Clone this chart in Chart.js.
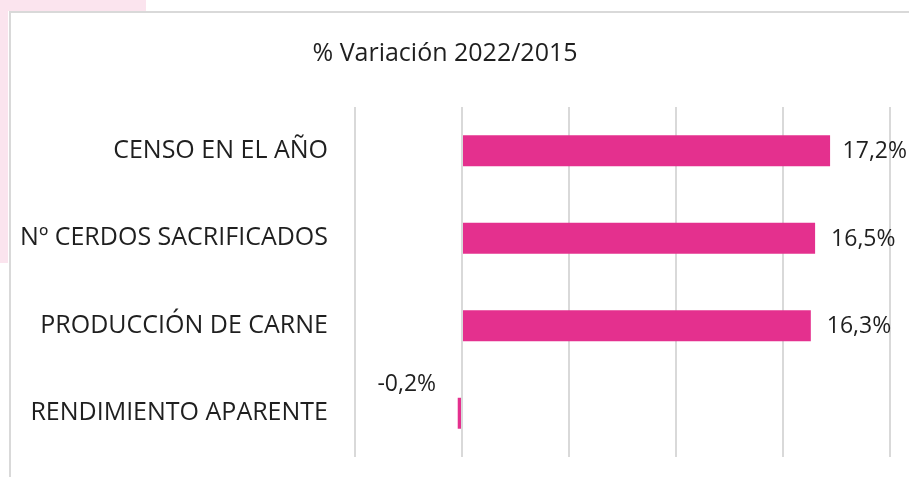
<!DOCTYPE html>
<html>
<head>
<meta charset="utf-8">
<script src="https://cdn.jsdelivr.net/npm/chart.js@4.4.1/dist/chart.umd.min.js"></script>
<style>
  html, body { margin: 0; padding: 0; background: #fff; }
  #wrap { width: 909px; height: 477px; position: relative; }
</style>
</head>
<body>
<div id="wrap"><canvas id="varChart"></canvas></div>
<script>
var categories = ["CENSO EN EL AÑO", "Nº CERDOS SACRIFICADOS", "PRODUCCIÓN DE CARNE", "RENDIMIENTO APARENTE"];
var variacion = [17.2, 16.5, 16.3, -0.2];
var xTicks = [-5, 0, 5, 10, 15, 20];

var pink = '#E4308E';
var gridGrey = '#D9D9D9';
var textColor = '#1f1f1f';

function fmt(v) {
    return v.toFixed(1).replace('.', ',') + '%';
}

// page frame: light pink corner + grey chart border
var framePlugin = {
    id: 'frame',
    beforeDraw: function(chart) {
        var c = chart.ctx;
        c.save();
        c.fillStyle = '#FFFFFF';
        c.fillRect(0, 0, chart.width, chart.height);
        c.fillStyle = '#FBE4EE';
        c.fillRect(0, 0, 146, 11);
        c.fillRect(0, 0, 8, 263);
        c.strokeStyle = gridGrey;
        c.lineWidth = 2;
        c.beginPath();
        c.moveTo(9, 12); c.lineTo(chart.width, 12);
        c.moveTo(10, 11); c.lineTo(10, chart.height);
        c.stroke();
        c.restore();
    }
};

// value labels next to the bars
var valueLabels = {
    id: 'valueLabels',
    afterDatasetsDraw: function(chart) {
        var c = chart.ctx;
        var meta = chart.getDatasetMeta(0);
        c.save();
        c.font = '23px "Open Sans"';
        c.fillStyle = textColor;
        c.textBaseline = 'middle';
        meta.data.forEach(function(bar, i) {
            var v = variacion[i];
            var txt = fmt(v);
            var w = c.measureText(txt).width;
            if (v >= 0) {
                c.textAlign = 'left';
                var x = Math.min(bar.x + 16, 907 - w);
                c.fillText(txt, x, bar.y + 1);
            } else {
                c.textAlign = 'center';
                c.fillText(txt, bar.x - 51, bar.y - 29);
            }
        });
        c.restore();
    }
};

new Chart(document.getElementById('varChart'), {
    type: 'bar',
    data: {
        labels: categories,
        datasets: [{
            label: '% Variación 2022/2015',
            data: variacion,
            backgroundColor: pink,
            borderWidth: 0,
            categoryPercentage: 1,
            barPercentage: 0.354
        }]
    },
    options: {
        indexAxis: 'y',
        responsive: true,
        maintainAspectRatio: false,
        devicePixelRatio: 1,
        animation: false,
        layout: { padding: { top: 12, left: 0, right: 19, bottom: 20 } },
        plugins: {
            legend: { display: false },
            tooltip: { enabled: false },
            title: {
                display: true,
                text: '% Variación 2022/2015',
                color: textColor,
                font: { family: 'Open Sans', size: 25, weight: 'normal', lineHeight: 1.2 },
                padding: { top: 27, bottom: 38 }
            }
        },
        scales: {
            x: {
                min: xTicks[0],
                max: xTicks[xTicks.length - 1],
                afterBuildTicks: function(scale) {
                    scale.ticks = xTicks.map(function(v) { return { value: v }; });
                },
                ticks: { display: false },
                grid: { color: gridGrey, lineWidth: 2, drawTicks: false },
                border: { display: false }
            },
            y: {
                afterFit: function(scale) {
                    scale.width = 355;
                    scale.paddingTop = 0;
                    scale.paddingBottom = 0;
                },
                ticks: {
                    color: textColor,
                    padding: 27,
                    font: { family: 'Open Sans', size: 25 }
                },
                grid: { display: false, drawTicks: false },
                border: { display: false }
            }
        }
    },
    plugins: [framePlugin, valueLabels]
});
</script>
</body>
</html>
